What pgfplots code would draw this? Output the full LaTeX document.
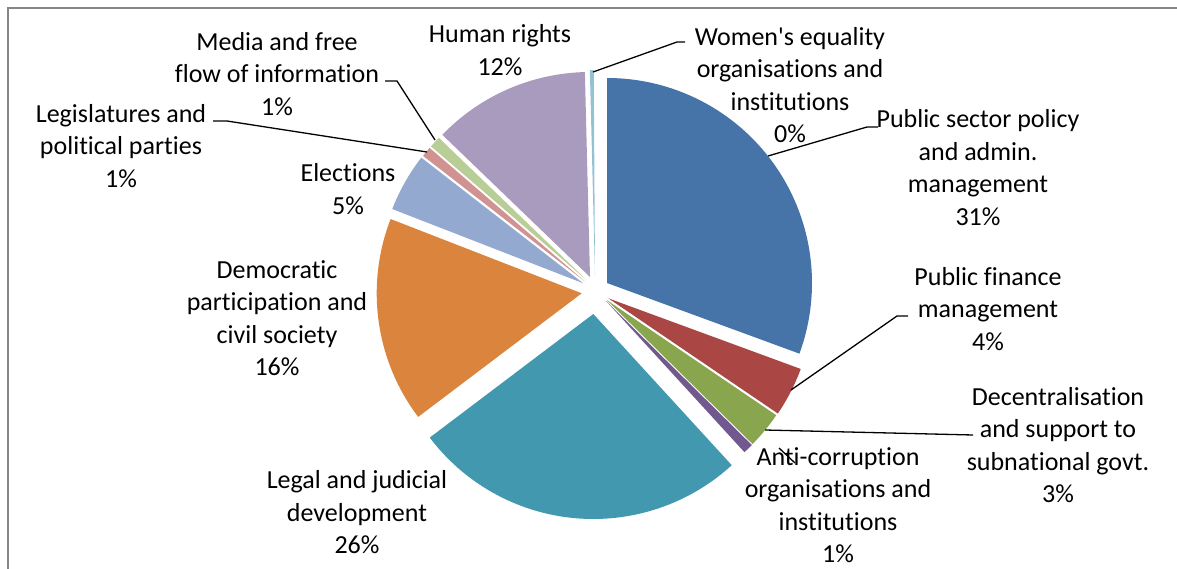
\documentclass[border=0pt]{standalone}
\usepackage{pgfplots}
\usepackage{pgfplotstable}
\pgfplotsset{compat=1.18}
\usepackage{fontspec}
\setmainfont{Carlito}[Ligatures={TeXOff,NoCommon}]
\newcommand\ti{t\kern0pt i}
\definecolor{c0}{RGB}{70,115,168}
\definecolor{c1}{RGB}{170,70,68}
\definecolor{c2}{RGB}{137,165,78}
\definecolor{c3}{RGB}{113,88,143}
\definecolor{c4}{RGB}{65,152,175}
\definecolor{c5}{RGB}{219,132,61}
\definecolor{c6}{RGB}{147,169,207}
\definecolor{c7}{RGB}{209,147,146}
\definecolor{c8}{RGB}{185,205,150}
\definecolor{c9}{RGB}{169,155,189}
\definecolor{c10}{RGB}{146,195,212}
\definecolor{framegray}{RGB}{134,134,134}
\tikzset{lbl/.style={font=\fontsize{26}{32.5}\selectfont,align=center,inner sep=0pt}}
% share (%), exploded slice centre (px)
\pgfplotstableread{
val cx cy
30.6 607 283
3.9 608.3 298.3
2.9 606.7 300
0.8 606 301
26.5 593.3 314
16.2 581.7 293.3
4.6 583.3 283.3
0.8 585 281.5
0.9 586.5 280
12.4 590 277
0.3 595 275
}\piedata
\begin{document}
\begin{tikzpicture}
\def\cum{0}
\pgfplotsforeachungrouped \i in {0,...,10}{%
  \pgfplotstablegetelem{\i}{val}\of\piedata \let\v\pgfplotsretval
  \pgfmathsetmacro\a{90-3.6*\cum}%
  \pgfmathsetmacro\cum{\cum+\v}%
  \pgfmathsetmacro\b{90-3.6*\cum}%
  \expandafter\xdef\csname sa\i\endcsname{\a}%
  \expandafter\xdef\csname sb\i\endcsname{\b}%
  \pgfplotstablegetelem{\i}{cx}\of\piedata
  \expandafter\xdef\csname cx\i\endcsname{\pgfplotsretval}%
  \pgfplotstablegetelem{\i}{cy}\of\piedata
  \expandafter\xdef\csname cy\i\endcsname{\pgfplotsretval}%
}
\useasboundingbox (0,0) rectangle (1177pt,569pt);
\begin{axis}[at={(0,0)},anchor=south west,
  width=1177pt,height=569pt,scale only axis,
  xmin=0,xmax=1177,ymin=0,ymax=569,y dir=reverse,
  hide axis,clip=false]
\pgfplotsinvokeforeach{0,...,10}{%
  \fill[c#1] (axis cs:\csname cx#1\endcsname,\csname cy#1\endcsname)
     -- ++(\csname sa#1\endcsname:205pt)
     arc[start angle=\csname sa#1\endcsname,end angle=\csname sb#1\endcsname,radius=205pt]
     -- cycle;
}
% frame
\draw[framegray,line width=1.6pt] (axis cs:8,569) -- (axis cs:8,8) -- (axis cs:1177,8);
% leader lines
\begin{scope}[black,line width=1.3pt]
\draw (axis cs:593,72) -- (axis cs:677,42) -- (axis cs:685,42);
\draw (axis cs:768,156) -- (axis cs:867,127) -- (axis cs:878,127);
\draw (axis cs:791,390) -- (axis cs:897,316) -- (axis cs:908,316);
\draw (axis cs:765,430) -- (axis cs:973,435);
\draw (axis cs:779,448) -- (axis cs:795,463);
\draw (axis cs:213,121) -- (axis cs:227,121) -- (axis cs:427,152);
\draw (axis cs:385,81) -- (axis cs:397,81) -- (axis cs:435,140);
\end{scope}
% labels
\node[lbl] at (axis cs:500,50) {Human rights\\12\%};
\node[lbl] at (axis cs:790,85) {Women's equality\\organisa\ti ons and\\ins\ti tu\ti ons\\0\%};
\node[lbl] at (axis cs:978,167.5) {Public sector policy\\and admin.\\management\\31\%};
\node[lbl] at (axis cs:988,309) {Public finance\\management\\4\%};
\node[lbl] at (axis cs:1058,445) {Decentralisa\ti on\\and support to\\subna\ti onal govt.\\3\%};
\node[lbl] at (axis cs:838,505) {An\ti-corrup\ti on\\organisa\ti ons and\\ins\ti tu\ti ons\\1\%};
\node[lbl] at (axis cs:357,512.5) {Legal and judicial\\development\\26\%};
\node[lbl] at (axis cs:277,318) {Democra\ti c\\par\ti cipa\ti on and\\civil society\\16\%};
\node[lbl] at (axis cs:348,189) {Elec\ti ons\\5\%};
\node[lbl] at (axis cs:121,146) {Legislatures and\\poli\ti cal par\ti es\\1\%};
\node[lbl] at (axis cs:277,74) {Media and free\\flow of informa\ti on\\1\%};
\end{axis}
\end{tikzpicture}
\end{document}
